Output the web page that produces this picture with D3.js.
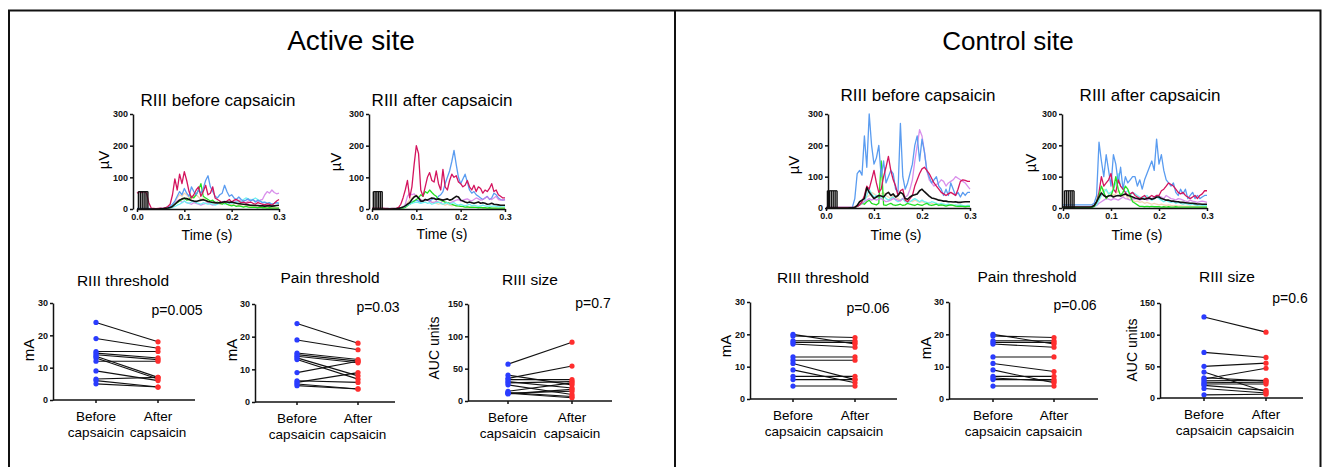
<!DOCTYPE html>
<html>
<head>
<meta charset="utf-8">
<script src="https://cdn.jsdelivr.net/npm/d3@7"></script>
<style>
  body { margin: 0; background: #fff; }
  svg { display: block; font-family: "Liberation Sans", Arial, sans-serif; }
</style>
</head>
<body>
<svg width="1323" height="467"></svg>
<script>
// sample times of the averaged EMG traces (s)
const traceTime = [0,.005,.01,.015,.02,.025,.03,.035,.04,.045,.05,.055,.06,.065,.07,.075,.08,.085,.09,.095,
  .1,.105,.11,.115,.12,.125,.13,.135,.14,.145,.15,.155,.16,.165,.17,.175,.18,.185,.19,.195,
  .2,.205,.21,.215,.22,.225,.23,.235,.24,.245,.25,.255,.26,.265,.27,.275,.28,.285,.29,.295,.3];
const pulseTimes = [0.003, 0.007, 0.011, 0.015, 0.019, 0.023];
const pulseHeight = 55;
const traceTicksY = [0, 100, 200, 300];
const traceTicksX = [0, 0.1, 0.2, 0.3];

// Active site, before capsaicin (µV)
const actBeforeCrimson = [50,55,52,55,50,20,3,2,1,2, 3,2,4,8,15,45,95,60,110,80, 118,90,55,35,45,60,70,40,55,75,
  45,50,70,35,30,25,20,22,25,30, 22,28,30,25,20,22,18,20,22,18, 15,20,18,15,14,16,15,12,18,25, 30];
const actBeforeBlue = [2,2,2,2,2,2,1,1,1,1, 2,2,3,5,8,15,25,40,55,45, 65,50,40,70,55,45,60,50,65,90,
  105,70,55,40,35,45,50,75,55,40, 45,35,30,38,30,25,28,32,25,30, 22,28,25,20,22,18,20,15,18,20, 18];
const actBeforeGreen = [1,1,1,1,1,1,1,1,1,1, 1,1,2,3,5,10,15,20,25,30, 35,28,30,40,35,45,60,80,40,35,
  30,25,28,20,22,18,15,20,15,12, 10,12,8,10,8,6,8,6,5,6, 5,4,5,4,4,3,4,3,3,3, 3];
const actBeforeViolet = [1,1,1,1,1,1,1,1,1,1, 1,1,2,3,5,8,15,25,30,20, 25,20,18,15,20,18,15,12,15,18,
  20,15,12,15,18,20,22,25,20,18, 20,25,22,28,25,22,20,25,30,28, 25,22,28,30,45,55,50,60,52,48, 50];
const actBeforeCyan = [1,1,1,1,1,1,1,1,1,1, 1,1,1,2,3,5,8,12,15,20, 25,20,18,22,25,20,18,15,20,18,
  15,18,15,12,15,18,20,15,18,20, 18,20,22,25,20,30,35,32,28,30, 35,30,25,22,20,18,20,15,18,20, 18];
const actBeforePeach = [1,1,1,1,1,1,1,1,1,1, 1,1,2,3,5,10,20,35,45,40, 50,45,35,30,40,45,38,30,35,28,
  25,22,20,18,20,15,18,20,15,12, 15,12,10,12,10,8,10,8,8,7, 6,7,6,5,6,5,5,4,5,4, 4];
const actBeforeMean = [0,0,0,0,0,0,0,0,0,0, 1,1,2,3,5,8,15,22,28,32, 34,33,30,27,25,24,26,28,29,27,
  24,22,21,20,19,20,21,23,22,21, 22,20,18,17,16,15,14,13,12,12, 11,11,10,10,9,10,10,9,10,11, 12];

// Active site, after capsaicin (µV)
const actAfterCrimson = [3,3,3,3,3,3,2,2,1,2, 2,3,5,15,35,60,90,35,70,140, 200,175,60,40,70,100,115,90,85,120,
  80,60,125,70,60,90,110,100,105,85, 80,70,75,90,70,60,75,55,70,65, 50,60,55,65,80,55,60,45,40,35, 35];
const actAfterCyan = [1,1,1,1,1,1,1,1,1,1, 1,1,2,3,5,8,12,18,22,25, 28,25,22,25,30,28,25,30,35,30,
  40,45,55,80,100,120,150,185,140,100, 80,95,110,85,60,50,55,45,40,35, 30,35,40,30,35,50,45,35,30,28, 30];
const actAfterGreen = [1,1,1,1,1,1,1,1,1,1, 1,1,1,2,3,5,10,15,20,25, 30,35,45,40,55,50,60,52,45,40,
  30,28,25,22,20,18,15,12,10,10, 8,8,6,7,5,6,5,5,4,5, 4,4,3,4,3,3,3,3,3,3, 3];
const actAfterViolet = [1,1,1,1,1,1,1,1,1,1, 1,1,2,3,5,15,40,50,45,48, 40,35,30,25,28,30,25,22,20,25,
  22,20,25,22,20,18,22,25,28,30, 25,28,30,32,28,25,30,35,32,28, 30,35,38,32,30,35,40,30,28,30, 28];
const actAfterBlue = [2,2,2,2,2,2,2,2,2,2, 2,2,3,4,5,8,12,15,18,20, 22,20,18,20,22,18,20,15,18,20,
  22,18,15,18,20,15,18,20,15,12, 15,12,10,12,15,10,12,10,8,10, 12,10,8,10,8,10,8,7,8,10, 8];
const actAfterPeach = [1,1,1,1,1,1,1,1,1,1, 1,1,2,3,5,10,20,30,35,40, 45,35,30,28,25,30,25,20,22,18,
  15,18,15,12,15,12,10,12,10,8, 8,7,6,7,6,5,6,5,5,4, 4,4,3,4,3,3,3,3,3,3, 3];
const actAfterMean = [0,0,0,0,0,0,0,0,0,0, 1,1,2,4,6,10,15,20,30,38, 42,35,25,25,30,28,32,35,33,30,
  32,30,28,30,32,28,30,35,40,38, 28,25,22,20,22,20,18,20,22,18, 20,18,15,16,18,15,14,13,12,12, 12];

// Control site, before capsaicin (µV)
const conBeforeBlue = [2,2,2,2,2,2,2,2,2,2, 2,3,30,110,120,105,230,130,300,200, 140,160,200,100,150,80,100,120,110,60,
  50,270,100,60,80,110,140,200,230,150, 220,180,120,100,80,90,100,70,60,40, 60,40,80,60,40,50,35,50,40,50, 50];
const conBeforeCrimson = [2,2,2,2,2,2,2,2,2,2, 2,2,3,5,10,20,40,70,60,90, 120,80,50,60,100,130,165,120,90,70,
  40,55,60,25,20,30,40,70,90,110, 125,130,120,110,95,80,70,60,50,45, 40,45,50,45,40,60,85,90,88,85, 85];
const conBeforeViolet = [1,1,1,1,1,1,1,1,1,1, 1,1,2,5,10,15,20,25,30,25, 30,25,28,30,25,20,22,25,30,28,
  25,22,30,35,40,60,90,150,200,250, 230,180,120,90,80,70,75,80,90,85, 70,80,85,90,100,95,90,85,80,70, 60];
const conBeforeGreen = [1,1,1,1,1,1,1,1,1,1, 1,1,2,5,10,15,12,20,25,15, 12,10,15,150,10,8,12,15,10,8,
  10,12,8,10,15,12,10,8,12,10, 8,12,15,10,8,10,12,8,10,8, 6,8,10,8,6,5,6,5,4,5, 5];
const conBeforeCyan = [1,1,1,1,1,1,1,1,1,1, 1,1,2,5,10,15,20,40,60,45, 35,40,30,35,40,30,25,30,35,25,
  20,25,30,20,18,20,25,30,25,20, 25,20,18,15,20,18,15,12,15,12, 10,12,10,8,10,8,10,8,7,8, 8];
const conBeforePeach = [1,1,1,1,1,1,1,1,1,1, 1,1,2,5,10,20,30,35,40,50, 45,40,35,45,50,40,35,30,40,35,
  30,25,30,28,25,22,20,25,22,18, 20,18,15,18,15,12,15,12,10,12, 10,8,10,8,7,8,6,7,6,5, 5];
const conBeforeMean = [0,0,0,0,0,0,0,0,0,0, 1,1,2,8,20,25,30,65,50,40, 30,35,40,38,35,45,50,40,45,35,
  40,50,45,30,28,35,40,42,45,55, 60,52,45,38,32,30,28,25,24,22, 22,20,20,19,20,18,18,19,20,20, 20];

// Control site, after capsaicin (µV)
const conAfterBlue = [10,10,10,10,10,10,10,10,10,10, 10,10,10,15,40,210,150,100,170,120, 70,170,140,80,130,60,100,80,90,100,
  100,70,90,60,90,110,130,150,120,220, 140,170,120,90,80,70,80,50,40,60, 45,60,30,40,50,30,40,30,35,40, 40];
const conAfterCrimson = [3,3,3,3,3,3,3,3,3,3, 3,3,4,8,20,50,100,70,80,90, 110,60,50,90,70,60,50,40,45,50,
  40,35,30,35,40,30,35,40,35,40, 40,55,60,70,80,75,70,60,50,45, 50,40,35,30,35,40,30,40,45,55, 55];
const conAfterGreen = [1,1,1,1,1,1,1,1,1,1, 1,1,2,5,20,40,70,50,30,40, 40,60,100,60,40,50,70,60,40,20,
  15,10,5,5,4,5,4,5,4,4, 4,3,4,3,4,3,3,4,3,3, 3,3,3,3,3,3,3,3,3,3, 3];
const conAfterCyan = [1,1,1,1,1,1,1,1,1,1, 1,1,2,5,10,25,40,50,60,45, 50,60,80,110,70,60,50,55,40,50,
  45,40,35,30,35,40,30,25,30,35, 30,25,20,25,20,18,20,15,18,15, 12,15,12,10,12,10,8,10,8,8, 8];
const conAfterViolet = [1,1,1,1,1,1,1,1,1,1, 1,1,2,4,8,15,20,25,30,28, 25,30,28,25,30,35,30,28,25,30,
  28,30,25,28,30,25,28,30,35,40, 38,35,30,40,35,30,28,25,30,28, 25,22,20,25,22,20,18,20,22,20, 18];
const conAfterPeach = [1,1,1,1,1,1,1,1,1,1, 1,1,2,5,10,30,50,60,55,45, 50,40,45,55,40,35,45,30,35,25,
  20,22,18,20,15,18,15,12,15,12, 10,12,10,8,10,8,7,8,6,7, 6,5,6,5,5,4,5,4,4,4, 4];
const conAfterMean = [3,3,3,3,3,3,3,3,3,3, 3,3,4,8,20,35,48,40,35,38, 40,35,38,40,38,42,45,40,38,35,
  32,30,28,30,28,30,32,28,30,35, 35,30,28,25,25,22,22,20,20,18, 18,17,16,15,15,14,13,13,12,12, 12];

// paired subject data (before -> after capsaicin)
const conditions = ["Before", "After"];
const actRiiiThrBefore  = [24, 19, 15, 14.5, 14, 13.5, 13, 12, 9, 6.5, 6, 5];
const actRiiiThrAfter   = [18, 16, 15, 13, 12.5, 7, 6.5, 12, 6, 7, 4, 4];
const actPainThrBefore  = [24, 19, 15, 14.5, 14, 13.5, 13, 9, 6.5, 6, 5.5, 5];
const actPainThrAfter   = [18, 16, 13, 12.5, 12, 8, 7, 12.5, 6, 9, 4, 4];
const actRiiiSizeBefore = [57, 40, 35, 33, 30, 28, 25, 15, 13, 12, 12, 11];
const actRiiiSizeAfter  = [91, 25, 54, 33, 20, 30, 10, 28, 7, 15, 5, 18];
const conRiiiThrBefore  = [20, 19.5, 18, 17, 17.5, 13, 12, 11, 9, 7, 6, 4];
const conRiiiThrAfter   = [17, 19, 18, 16, 17.5, 13, 12, 6, 5, 7, 6, 4];
const conPainThrBefore  = [20, 19.5, 18, 17, 17.5, 13, 11, 9, 7, 6, 4, 6.5];
const conPainThrAfter   = [17, 19, 18, 16, 17.5, 13, 8.5, 5, 7, 6, 4, 5.5];
const conRiiiSizeBefore = [128, 72, 50, 41, 30, 27, 24, 22, 20, 15, 5, 32];
const conRiiiSizeAfter  = [104, 64, 55, 10, 47, 28, 25, 22, 12, 8, 6, 27];
const thrTicks = [0, 10, 20, 30];
const sizeTicks = [0, 50, 100, 150];

const colors = {
  peach: "#f2c9a0", violet: "#d27be8", cyan: "#6ff2f2", green: "#22e022",
  blue: "#5a9cf0", crimson: "#d4145e", mean: "#111"
};

const svg = d3.select("svg");

// outer frame and divider
svg.append("path")
    .attr("d", "M9,467V10.5H1320.5V467")
    .attr("fill", "none")
    .attr("stroke", "#111")
    .attr("stroke-width", 2);
svg.append("line")
    .attr("x1", 675).attr("x2", 675).attr("y1", 10).attr("y2", 467)
    .attr("stroke", "#111").attr("stroke-width", 2);

svg.append("text").attr("x", 351).attr("y", 50).attr("text-anchor", "middle")
    .style("font-size", "28px").text("Active site");
svg.append("text").attr("x", 1008).attr("y", 50).attr("text-anchor", "middle")
    .style("font-size", "26px").text("Control site");

function styleAxis(g) {
    g.selectAll("path, line").attr("stroke", "#111").attr("stroke-width", 1.5);
    g.selectAll("text").style("font-size", "9px").style("font-weight", "bold")
        .style("font-family", "'Liberation Sans', Arial, sans-serif").attr("fill", "#111");
}

function drawTrace(c) {
    const x = d3.scaleLinear().domain([0, 0.3]).range([c.x0, c.x1]);
    const y = d3.scaleLinear().domain([0, 300]).range([c.y0, c.y1]);
    const g = svg.append("g");

    const line = d3.line().x((d, i) => x(traceTime[i])).y(d => y(d));
    c.series.forEach(s => {
        g.append("path")
            .datum(s.values)
            .attr("d", line)
            .attr("fill", "none")
            .attr("stroke", s.color)
            .attr("stroke-width", s.width || 1.3)
            .attr("stroke-opacity", s.opacity || 1)
            .attr("stroke-linejoin", "round");
    });

    // stimulus train
    g.selectAll(".pulse")
        .data(pulseTimes)
        .enter().append("line")
        .attr("x1", d => x(d)).attr("x2", d => x(d))
        .attr("y1", y(0)).attr("y2", y(pulseHeight))
        .attr("stroke", "#111").attr("stroke-width", 1.4);
    g.append("line")
        .attr("x1", x(pulseTimes[0])).attr("x2", x(pulseTimes[pulseTimes.length - 1]))
        .attr("y1", y(pulseHeight)).attr("y2", y(pulseHeight))
        .attr("stroke", "#111").attr("stroke-width", 1.2);

    svg.append("g")
        .attr("transform", `translate(0,${c.y0})`)
        .call(d3.axisBottom(x).tickValues(traceTicksX).tickFormat(d3.format(".1f"))
            .tickSize(3).tickSizeOuter(0).tickPadding(2))
        .call(styleAxis);
    svg.append("g")
        .attr("transform", `translate(${c.yAxisX},0)`)
        .call(d3.axisLeft(y).tickValues(traceTicksY).tickSize(3).tickSizeOuter(0).tickPadding(2))
        .call(styleAxis);

    svg.append("text").attr("x", c.tx).attr("y", c.ty).attr("text-anchor", "middle")
        .style("font-size", "17px").text(c.title);
    svg.append("text").attr("x", c.xlx).attr("y", c.xly).attr("text-anchor", "middle")
        .style("font-size", "14px").text("Time (s)");
    svg.append("text")
        .attr("transform", `translate(${c.ylx},${c.yly}) rotate(-90)`)
        .attr("text-anchor", "middle")
        .style("font-size", "15px").text("µV");
}

function traceSeries(peach, violet, cyan, green, blue, crimson, mean, order) {
    const all = {
        peach: { values: peach, color: colors.peach, opacity: 0.8 },
        violet: { values: violet, color: colors.violet, opacity: 0.85 },
        cyan: { values: cyan, color: colors.cyan },
        green: { values: green, color: colors.green },
        blue: { values: blue, color: colors.blue },
        crimson: { values: crimson, color: colors.crimson },
        mean: { values: mean, color: colors.mean, width: 1.6 }
    };
    return order.map(k => all[k]);
}

drawTrace({
    x0: 137, x1: 279, y0: 209, y1: 114, yAxisX: 133,
    title: "RIII before capsaicin", tx: 218, ty: 106,
    xlx: 207, xly: 240, ylx: 109, yly: 160,
    series: traceSeries(actBeforePeach, actBeforeViolet, actBeforeCyan, actBeforeGreen,
        actBeforeBlue, actBeforeCrimson, actBeforeMean,
        ["peach", "violet", "cyan", "green", "blue", "crimson", "mean"])
});
drawTrace({
    x0: 372, x1: 505, y0: 209, y1: 114, yAxisX: 369,
    title: "RIII after capsaicin", tx: 442, ty: 106,
    xlx: 442, xly: 239, ylx: 341, yly: 162,
    series: traceSeries(actAfterPeach, actAfterViolet, actAfterBlue, actAfterGreen,
        actAfterCyan, actAfterCrimson, actAfterMean,
        ["peach", "blue", "violet", "green", "cyan", "crimson", "mean"])
});
drawTrace({
    x0: 826, x1: 970, y0: 208, y1: 114, yAxisX: 828,
    title: "RIII before capsaicin", tx: 918, ty: 101,
    xlx: 896, xly: 240, ylx: 799, yly: 165,
    series: traceSeries(conBeforePeach, conBeforeViolet, conBeforeCyan, conBeforeGreen,
        conBeforeBlue, conBeforeCrimson, conBeforeMean,
        ["peach", "cyan", "green", "violet", "blue", "crimson", "mean"])
});
drawTrace({
    x0: 1063, x1: 1207, y0: 208, y1: 114, yAxisX: 1062,
    title: "RIII after capsaicin", tx: 1150, ty: 101,
    xlx: 1137, xly: 240, ylx: 1036, yly: 163,
    series: traceSeries(conAfterPeach, conAfterViolet, conAfterCyan, conAfterGreen,
        conAfterBlue, conAfterCrimson, conAfterMean,
        ["peach", "violet", "cyan", "blue", "crimson", "green", "mean"])
});

function drawPaired(c) {
    const y = d3.scaleLinear().domain([0, c.max]).range([c.y0, c.y1]);
    const x = d3.scaleOrdinal().domain(conditions).range([c.bx, c.axX]);
    const g = svg.append("g");
    const pairs = c.before.map((b, i) => ({ b: b, a: c.after[i] }));

    g.selectAll(".pair")
        .data(pairs)
        .enter().append("line")
        .attr("x1", x("Before")).attr("x2", x("After"))
        .attr("y1", d => y(d.b)).attr("y2", d => y(d.a))
        .attr("stroke", "#111").attr("stroke-width", 1.1);
    g.selectAll(".before")
        .data(c.before)
        .enter().append("circle")
        .attr("cx", x("Before")).attr("cy", d => y(d)).attr("r", 2.6)
        .attr("fill", "#2a3cff");
    g.selectAll(".after")
        .data(c.after)
        .enter().append("circle")
        .attr("cx", x("After")).attr("cy", d => y(d)).attr("r", 2.6)
        .attr("fill", "#ff2e2e");

    // x axis: baseline plus small category ticks
    const xa = svg.append("g");
    xa.append("line")
        .attr("x1", c.yAxisX).attr("x2", c.xEnd).attr("y1", c.y0).attr("y2", c.y0);
    xa.selectAll(".tk")
        .data(conditions)
        .enter().append("line")
        .attr("x1", d => x(d)).attr("x2", d => x(d))
        .attr("y1", c.y0).attr("y2", c.y0 + 3);
    xa.call(styleAxis);

    svg.append("g")
        .attr("transform", `translate(${c.yAxisX},0)`)
        .call(d3.axisLeft(y).tickValues(c.ticks).tickSize(3).tickSizeOuter(0).tickPadding(2))
        .call(styleAxis);

    conditions.forEach(k => {
        const t = svg.append("text").attr("text-anchor", "middle").style("font-size", "13.5px");
        t.append("tspan").attr("x", x(k)).attr("y", c.y0 + 21).text(k);
        t.append("tspan").attr("x", x(k)).attr("y", c.y0 + 37).text("capsaicin");
    });

    svg.append("text").attr("x", c.tx).attr("y", c.ty).attr("text-anchor", "middle")
        .style("font-size", "15.5px").text(c.title);
    svg.append("text").attr("x", c.px).attr("y", c.py).attr("text-anchor", "middle")
        .style("font-size", "14px").text(c.p);
    svg.append("text")
        .attr("transform", `translate(${c.ylx},${c.yly}) rotate(-90)`)
        .attr("text-anchor", "middle")
        .style("font-size", c.ylabel === "mA" ? "15px" : "14px").text(c.ylabel);
}

drawPaired({ yAxisX: 53, xEnd: 195, bx: 96, axX: 158, y0: 400, y1: 303, max: 30, ticks: thrTicks,
    before: actRiiiThrBefore, after: actRiiiThrAfter, title: "RIII threshold", tx: 123, ty: 286,
    p: "p=0.005", px: 177, py: 315, ylabel: "mA", ylx: 34, yly: 350 });
drawPaired({ yAxisX: 255, xEnd: 395, bx: 297, axX: 358, y0: 402, y1: 304, max: 30, ticks: thrTicks,
    before: actPainThrBefore, after: actPainThrAfter, title: "Pain threshold", tx: 330, ty: 283,
    p: "p=0.03", px: 378, py: 312, ylabel: "mA", ylx: 237, yly: 350 });
drawPaired({ yAxisX: 468, xEnd: 612, bx: 508, axX: 572, y0: 401, y1: 304, max: 150, ticks: sizeTicks,
    before: actRiiiSizeBefore, after: actRiiiSizeAfter, title: "RIII size", tx: 530, ty: 285,
    p: "p=0.7", px: 593, py: 308, ylabel: "AUC units", ylx: 439, yly: 348 });
drawPaired({ yAxisX: 750, xEnd: 897, bx: 793, axX: 855, y0: 399, y1: 302, max: 30, ticks: thrTicks,
    before: conRiiiThrBefore, after: conRiiiThrAfter, title: "RIII threshold", tx: 823, ty: 283,
    p: "p=0.06", px: 868, py: 313, ylabel: "mA", ylx: 731, yly: 346 });
drawPaired({ yAxisX: 949, xEnd: 1098, bx: 993, axX: 1054, y0: 399, y1: 302, max: 30, ticks: thrTicks,
    before: conPainThrBefore, after: conPainThrAfter, title: "Pain threshold", tx: 1027, ty: 282,
    p: "p=0.06", px: 1075, py: 310, ylabel: "mA", ylx: 931, yly: 348 });
drawPaired({ yAxisX: 1160, xEnd: 1303, bx: 1204, axX: 1266, y0: 398, y1: 303, max: 150, ticks: sizeTicks,
    before: conRiiiSizeBefore, after: conRiiiSizeAfter, title: "RIII size", tx: 1227, ty: 282,
    p: "p=0.6", px: 1290, py: 303, ylabel: "AUC units", ylx: 1137, yly: 350 });
</script>
</body>
</html>
